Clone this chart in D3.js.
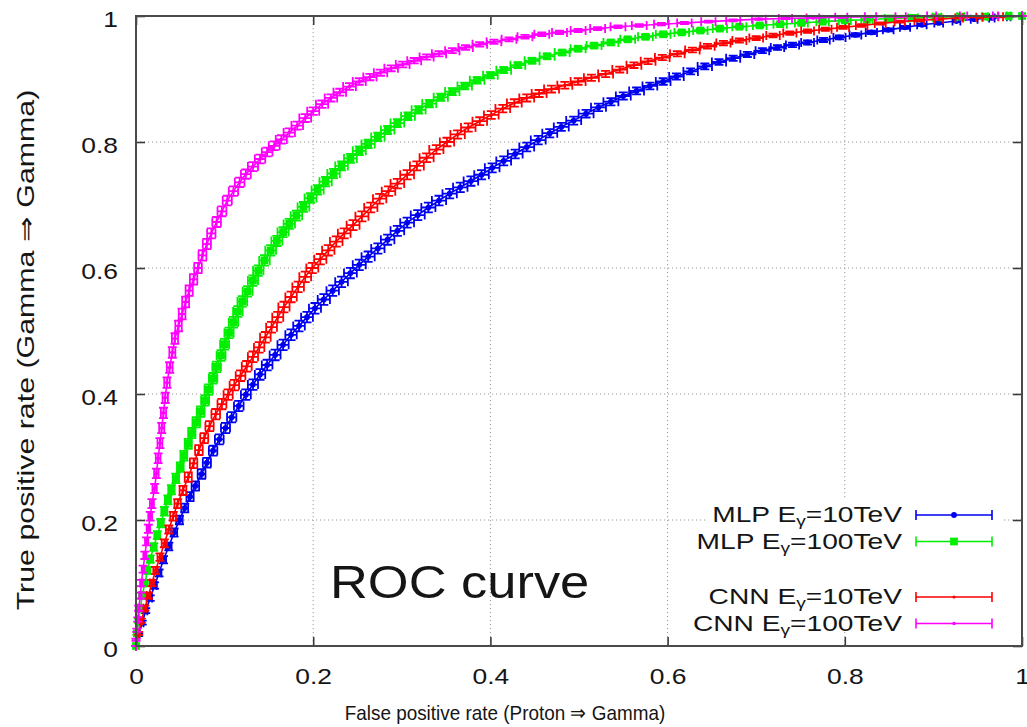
<!DOCTYPE html>
<html>
<head>
<meta charset="utf-8">
<script src="https://cdn.jsdelivr.net/npm/d3@7"></script>
<style>
  html, body { margin: 0; padding: 0; background: #ffffff; }
  svg { display: block; font-family: "Liberation Sans", Arial, Helvetica, sans-serif; }
</style>
</head>
<body>
<svg id="chart" width="1027" height="727"></svg>
<script>
// Axis ticks
const xTickValues = [0, 0.2, 0.4, 0.6, 0.8, 1];
const yTickValues = [0, 0.2, 0.4, 0.6, 0.8, 1];
const gridValues = [0.2, 0.4, 0.6, 0.8];

// Legend entries
const legendModels = ["MLP", "MLP", "CNN", "CNN"];
const legendEnergies = ["10TeV", "100TeV", "10TeV", "100TeV"];
const seriesColors = ["#0000f0", "#00ee00", "#ff0000", "#ff00ff"];

// ROC points: [false positive rate, true positive rate]
const mlp10 = [
  [0,0],[0.003,0.018],[0.007,0.037],[0.011,0.056],[0.016,0.076],[0.021,0.096],[0.026,0.116],
  [0.031,0.137],[0.037,0.158],[0.043,0.180],[0.049,0.200],[0.055,0.219],[0.061,0.237],[0.067,0.254],
  [0.074,0.273],[0.080,0.291],[0.087,0.310],[0.094,0.328],[0.101,0.346],[0.108,0.363],[0.116,0.381],
  [0.124,0.399],[0.132,0.415],[0.140,0.431],[0.148,0.446],[0.157,0.462],[0.166,0.478],[0.175,0.494],
  [0.184,0.508],[0.193,0.522],[0.202,0.536],[0.212,0.550],[0.222,0.564],[0.232,0.578],[0.242,0.592],
  [0.252,0.605],[0.262,0.618],[0.273,0.631],[0.284,0.645],[0.295,0.659],[0.306,0.672],[0.318,0.684],
  [0.330,0.696],[0.342,0.707],[0.354,0.718],[0.366,0.728],[0.378,0.738],[0.390,0.748],[0.402,0.759],
  [0.415,0.770],[0.428,0.781],[0.441,0.792],[0.454,0.803],[0.467,0.814],[0.480,0.824],[0.494,0.834],
  [0.508,0.845],[0.522,0.855],[0.536,0.864],[0.550,0.873],[0.565,0.881],[0.580,0.889],[0.595,0.896],
  [0.610,0.904],[0.626,0.912],[0.642,0.920],[0.658,0.927],[0.674,0.933],[0.690,0.939],[0.707,0.945],
  [0.724,0.950],[0.741,0.954],[0.758,0.958],[0.776,0.962],[0.794,0.966],[0.812,0.970],[0.830,0.974],
  [0.849,0.978],[0.868,0.982],[0.887,0.986],[0.906,0.989],[0.926,0.992],[0.946,0.995],[0.966,0.997],
  [0.985,0.999],[1.0,1.0]
];

const mlp100 = [
  [0,0],[0.001,0.020],[0.003,0.040],[0.005,0.060],[0.007,0.080],[0.010,0.100],[0.013,0.120],
  [0.016,0.138],[0.020,0.157],[0.024,0.176],[0.028,0.195],[0.032,0.214],[0.036,0.232],[0.040,0.248],
  [0.045,0.266],[0.050,0.284],[0.054,0.302],[0.059,0.321],[0.063,0.338],[0.068,0.355],[0.073,0.372],
  [0.078,0.390],[0.082,0.407],[0.087,0.425],[0.091,0.443],[0.096,0.461],[0.100,0.479],[0.105,0.497],
  [0.110,0.514],[0.115,0.531],[0.120,0.547],[0.126,0.563],[0.132,0.580],[0.138,0.596],[0.145,0.612],
  [0.152,0.628],[0.159,0.643],[0.166,0.657],[0.173,0.670],[0.181,0.683],[0.189,0.697],[0.197,0.711],
  [0.205,0.724],[0.214,0.737],[0.223,0.750],[0.232,0.762],[0.242,0.774],[0.252,0.786],[0.262,0.797],
  [0.273,0.808],[0.284,0.819],[0.295,0.830],[0.307,0.841],[0.319,0.851],[0.331,0.861],[0.344,0.871],
  [0.357,0.880],[0.371,0.889],[0.385,0.898],[0.400,0.906],[0.415,0.914],[0.431,0.922],[0.447,0.929],
  [0.464,0.936],[0.481,0.942],[0.499,0.948],[0.517,0.953],[0.536,0.958],[0.555,0.963],[0.575,0.967],
  [0.595,0.971],[0.616,0.974],[0.637,0.977],[0.659,0.980],[0.681,0.983],[0.704,0.985],[0.727,0.987],
  [0.751,0.989],[0.775,0.991],[0.800,0.993],[0.825,0.994],[0.851,0.996],[0.877,0.997],[0.904,0.998],
  [0.931,0.999],[0.958,0.999],[0.985,1.0],[1.0,1.0]
];

const cnn10 = [
  [0,0],[0.003,0.020],[0.006,0.040],[0.010,0.060],[0.014,0.080],[0.018,0.100],[0.022,0.120],
  [0.027,0.141],[0.032,0.163],[0.037,0.185],[0.042,0.206],[0.047,0.226],[0.053,0.247],[0.059,0.268],
  [0.065,0.290],[0.071,0.311],[0.077,0.330],[0.083,0.349],[0.090,0.368],[0.097,0.384],[0.104,0.399],
  [0.111,0.414],[0.118,0.429],[0.125,0.444],[0.132,0.459],[0.139,0.474],[0.146,0.490],[0.153,0.506],
  [0.160,0.522],[0.167,0.538],[0.175,0.554],[0.183,0.570],[0.191,0.586],[0.199,0.600],[0.208,0.614],
  [0.217,0.628],[0.226,0.642],[0.235,0.655],[0.245,0.668],[0.255,0.682],[0.265,0.696],[0.275,0.710],
  [0.285,0.722],[0.295,0.734],[0.306,0.748],[0.317,0.762],[0.328,0.775],[0.339,0.788],[0.351,0.800],
  [0.363,0.812],[0.375,0.823],[0.388,0.833],[0.401,0.843],[0.414,0.853],[0.427,0.862],[0.441,0.870],
  [0.455,0.877],[0.469,0.884],[0.484,0.890],[0.499,0.896],[0.514,0.902],[0.530,0.908],[0.546,0.915],
  [0.562,0.922],[0.578,0.928],[0.594,0.934],[0.611,0.940],[0.628,0.946],[0.645,0.952],[0.663,0.957],
  [0.681,0.961],[0.700,0.965],[0.719,0.969],[0.738,0.973],[0.758,0.976],[0.778,0.979],[0.798,0.982],
  [0.819,0.985],[0.840,0.988],[0.862,0.991],[0.884,0.993],[0.906,0.995],[0.929,0.997],[0.952,0.998],
  [0.976,0.999],[1.0,1.0]
];

const cnn100 = [
  [0,0],[0.000,0.010],[0.001,0.025],[0.002,0.042],[0.003,0.060],[0.005,0.080],[0.006,0.100],
  [0.008,0.122],[0.010,0.144],[0.012,0.166],[0.014,0.186],[0.016,0.206],[0.018,0.226],[0.021,0.250],
  [0.023,0.274],[0.025,0.298],[0.027,0.322],[0.029,0.346],[0.031,0.370],[0.033,0.394],[0.035,0.418],
  [0.038,0.442],[0.041,0.466],[0.044,0.488],[0.048,0.508],[0.052,0.527],[0.056,0.546],[0.060,0.564],
  [0.065,0.582],[0.070,0.600],[0.075,0.620],[0.080,0.638],[0.085,0.655],[0.091,0.673],[0.097,0.690],
  [0.103,0.707],[0.110,0.722],[0.117,0.736],[0.124,0.749],[0.132,0.761],[0.140,0.773],[0.148,0.784],
  [0.156,0.794],[0.164,0.804],[0.173,0.815],[0.182,0.826],[0.191,0.838],[0.200,0.849],[0.210,0.860],
  [0.220,0.870],[0.230,0.879],[0.241,0.888],[0.252,0.896],[0.264,0.903],[0.276,0.910],[0.288,0.917],
  [0.301,0.923],[0.314,0.929],[0.328,0.935],[0.342,0.940],[0.357,0.945],[0.372,0.950],[0.388,0.955],
  [0.404,0.959],[0.421,0.963],[0.439,0.967],[0.458,0.971],[0.478,0.974],[0.499,0.977],[0.521,0.980],
  [0.544,0.983],[0.568,0.985],[0.593,0.987],[0.619,0.989],[0.646,0.991],[0.674,0.993],[0.703,0.995],
  [0.733,0.996],[0.764,0.997],[0.796,0.998],[0.829,0.999],[0.863,0.999],[0.898,1.0],[0.934,1.0],
  [0.970,1.0],[1.0,1.0]
];

const seriesData = [mlp10, mlp100, cnn10, cnn100];

// Events per sample, used for the binomial uncertainty of each rate
const sampleSize = 3500;

// ---------------------------------------------------------------------------
const svg = d3.select("#chart");
const W = 1027, H = 727;
const plot = { left: 136, right: 1022, top: 16, bottom: 646 };
const textColor = "#151515";

const x = d3.scaleLinear().domain([0, 1]).range([plot.left, plot.right]);
const y = d3.scaleLinear().domain([0, 1]).range([plot.bottom, plot.top]);

svg.append("rect").attr("width", W).attr("height", H).attr("fill", "#fff");

// dotted grid
const grid = svg.append("g").attr("stroke", "#9a9a9a").attr("stroke-width", 1)
  .attr("stroke-dasharray", "1.2,2.8");
grid.selectAll("line.gx").data(gridValues).join("line")
  .attr("x1", d => x(d)).attr("x2", d => x(d)).attr("y1", plot.top).attr("y2", plot.bottom);
grid.selectAll("line.gy").data(gridValues).join("line")
  .attr("x1", plot.left).attr("x2", plot.right).attr("y1", d => y(d)).attr("y2", d => y(d));

// text helper: stretches glyphs horizontally about the anchor point
function stretchText(sel, sx) {
  sel.each(function () {
    const t = d3.select(this);
    const ax = +t.attr("x") || 0;
    t.attr("transform", `translate(${ax},0) scale(${sx},1) translate(${-ax},0)`);
  });
}

const tickFmt = d => String(d);

// axes with inward ticks
const axisLeft = svg.append("g").attr("transform", `translate(${plot.left},0)`)
  .call(d3.axisLeft(y).tickValues(yTickValues).tickFormat(tickFmt)
    .tickSizeInner(-9).tickSizeOuter(0).tickPadding(18));
const axisRight = svg.append("g").attr("transform", `translate(${plot.right},0)`)
  .call(d3.axisRight(y).tickValues(yTickValues).tickFormat("")
    .tickSizeInner(-9).tickSizeOuter(0));
const axisBottom = svg.append("g").attr("transform", `translate(0,${plot.bottom})`)
  .call(d3.axisBottom(x).tickValues(xTickValues).tickFormat(tickFmt)
    .tickSizeInner(-9).tickSizeOuter(0).tickPadding(22));
const axisTop = svg.append("g").attr("transform", `translate(0,${plot.top})`)
  .call(d3.axisTop(x).tickValues(xTickValues).tickFormat("")
    .tickSizeInner(-9).tickSizeOuter(0));

[axisLeft, axisRight, axisBottom, axisTop].forEach(g => {
  g.select(".domain").remove();
  g.selectAll(".tick line").attr("stroke", "#3a3a3a").attr("stroke-width", 1.6);
  g.selectAll(".tick text").attr("fill", textColor).attr("font-size", 22)
    .attr("font-family", "Liberation Sans, Arial, sans-serif");
});
axisLeft.selectAll(".tick text").attr("dy", "0.46em").call(stretchText, 1.2);
axisBottom.selectAll(".tick text").call(stretchText, 1.2);

// legend backdrop hides the grid behind the key
const legendG = svg.append("g");
legendG.append("rect").attr("x", 707).attr("y", 498).attr("width", 296).attr("height", 134)
  .attr("fill", "#fff");

// curves: line, binomial error bars, markers
const line = d3.line().x(d => x(d[0])).y(d => y(d[1]));
const capHalf = 4.5;

function errorPath(points) {
  let p = "";
  points.forEach(([fx, ty]) => {
    const ex = Math.sqrt(fx * (1 - fx) / sampleSize);
    const ey = Math.sqrt(ty * (1 - ty) / sampleSize);
    const cx = x(fx), cy = y(ty);
    const x0 = x(fx - ex), x1 = x(fx + ex), y0 = y(ty - ey), y1 = y(ty + ey);
    p += `M${x0},${cy}H${x1}`;
    p += `M${x0},${cy - capHalf}V${cy + capHalf}M${x1},${cy - capHalf}V${cy + capHalf}`;
    p += `M${cx},${y0}V${y1}`;
    p += `M${cx - capHalf},${y0}H${cx + capHalf}M${cx - capHalf},${y1}H${cx + capHalf}`;
  });
  return p;
}

const markerShapes = [
  d3.symbol().type(d3.symbolCircle).size(26),
  d3.symbol().type(d3.symbolSquare).size(60),
  d3.symbol().type(d3.symbolCircle).size(8),
  d3.symbol().type(d3.symbolCircle).size(10)
];

const curves = svg.append("g");
seriesData.forEach((pts, i) => {
  const g = curves.append("g");
  g.append("path").attr("d", line(pts)).attr("fill", "none")
    .attr("stroke", seriesColors[i]).attr("stroke-width", 1.6);
  g.append("path").attr("d", errorPath(pts)).attr("fill", "none")
    .attr("stroke", seriesColors[i]).attr("stroke-width", 1.8);
  g.selectAll("path.pt").data(pts).join("path")
    .attr("transform", d => `translate(${x(d[0])},${y(d[1])})`)
    .attr("d", markerShapes[i]()).attr("fill", seriesColors[i]);
});

// frame
svg.append("rect").attr("x", plot.left).attr("y", plot.top)
  .attr("width", plot.right - plot.left).attr("height", plot.bottom - plot.top)
  .attr("fill", "none").attr("stroke", "#4a4a4a").attr("stroke-width", 2);

// legend rows
const rowY = i => 515 + i * 26.5 + (i >= 2 ? 29 : 0);
legendModels.forEach((m, i) => {
  const ry = rowY(i);
  const t = legendG.append("text").attr("x", 902).attr("y", ry + 7.5)
    .attr("text-anchor", "end").attr("font-size", 22).attr("fill", textColor);
  t.append("tspan").text(`${m} E`);
  t.append("tspan").attr("dy", 4).attr("font-size", 15).text("γ");
  t.append("tspan").attr("dy", -4).text(`=${legendEnergies[i]}`);
  stretchText(t, 1.28);

  const c = seriesColors[i];
  legendG.append("path")
    .attr("d", `M916,${ry}H992M916,${ry - 5}V${ry + 5}M992,${ry - 5}V${ry + 5}`)
    .attr("stroke", c).attr("stroke-width", 1.6).attr("fill", "none");
  legendG.append("path").attr("transform", `translate(954,${ry})`)
    .attr("d", markerShapes[i]()).attr("fill", c);
});

// in-plot caption
const cap = svg.append("text").attr("x", 330).attr("y", 598)
  .attr("font-size", 46).attr("fill", textColor).text("ROC curve");
stretchText(cap, 1.14);

// axis titles
const xt = svg.append("text").attr("x", 505).attr("y", 720).attr("text-anchor", "middle")
  .attr("font-size", 21).attr("fill", textColor).text("False positive rate (Proton ⇒ Gamma)");
stretchText(xt, 0.9);

svg.append("g").attr("transform", "translate(34,350) rotate(-90) scale(1.32,1)")
  .append("text").attr("text-anchor", "middle").attr("font-size", 23).attr("fill", textColor)
  .text("True positive rate (Gamma ⇒ Gamma)");
</script>
</body>
</html>
